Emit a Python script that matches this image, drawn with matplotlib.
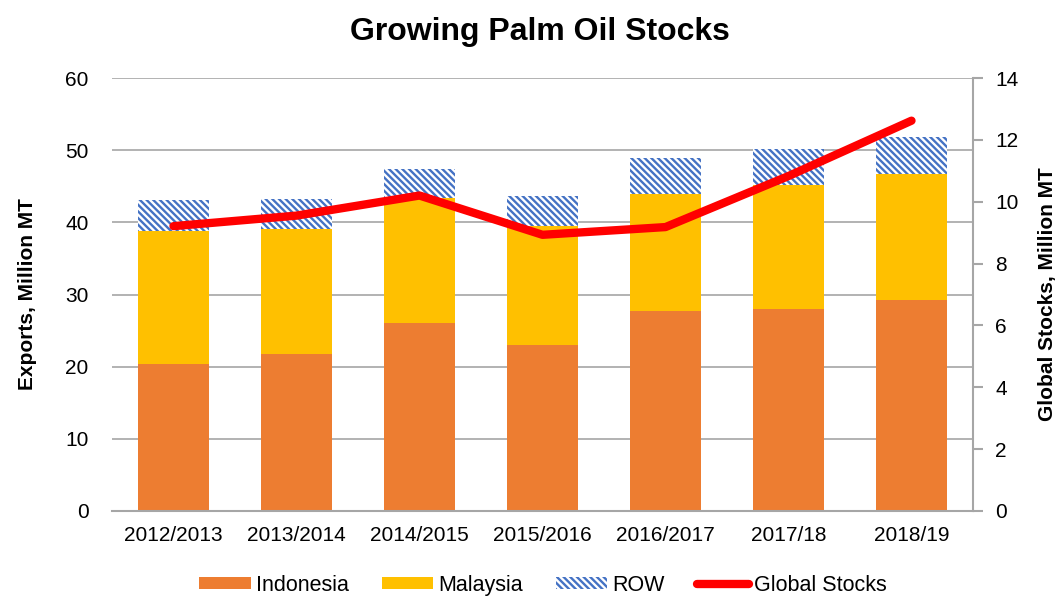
import matplotlib
matplotlib.use("Agg")
import matplotlib.pyplot as plt
from matplotlib.patches import Patch
from matplotlib.lines import Line2D
import numpy as np

plt.rcParams['font.family'] = ['Liberation Sans', 'DejaVu Sans']
plt.rcParams['hatch.linewidth'] = 1.7

categories = ["2012/2013", "2013/2014", "2014/2015", "2015/2016", "2016/2017", "2017/18", "2018/19"]
indonesia = [20.4, 21.7, 26.0, 23.0, 27.7, 28.0, 29.2]
malaysia_top = [38.8, 39.1, 43.4, 39.5, 43.9, 45.2, 46.7]
total_top = [43.1, 43.2, 47.4, 43.7, 48.9, 50.2, 51.8]
malaysia = [m - i for m, i in zip(malaysia_top, indonesia)]
row = [t - m for t, m in zip(total_top, malaysia_top)]
global_stocks = [9.21, 9.55, 10.2, 8.93, 9.18, 10.83, 12.62]

c_ind = '#ED7D31'
c_mal = '#FFC000'
c_row = '#4472C4'
c_line = '#FF0000'
grid_c = '#A6A6A6'
hatch = '\\\\\\\\\\'

fig = plt.figure(figsize=(10.59, 5.96), dpi=100)
ax = fig.add_axes([112/1059, 1-511/596, (973-112)/1059, (511-78)/596])
x = np.arange(len(categories))
w = 0.57

ax.bar(x, indonesia, w, color=c_ind, zorder=2)
ax.bar(x, malaysia, w, bottom=indonesia, color=c_mal, zorder=2)
ax.bar(x, row, w, bottom=malaysia_top, facecolor='white', edgecolor=c_row,
       hatch=hatch, linewidth=0, zorder=2)

ax.set_xlim(-0.5, len(categories) - 0.5)
ax.set_ylim(0, 60)
ax.set_yticks(range(0, 61, 10))
ax.yaxis.grid(True, color=grid_c, linewidth=1.2, zorder=0)
ax.set_axisbelow(True)
for s in ['top', 'left', 'right']:
    ax.spines[s].set_visible(False)
ax.spines['bottom'].set_color(grid_c)
ax.spines['bottom'].set_linewidth(1.5)
ax.set_xticks(x)
ax.set_xticklabels(categories)
ax.tick_params(axis='x', length=0, pad=11, labelsize=15)
ax.tick_params(axis='y', length=0, pad=17, labelsize=15)
ax.set_ylabel('Exports, Million MT', fontsize=15, fontweight='bold', labelpad=20)

ax2 = ax.twinx()
ax2.plot(x, global_stocks, color=c_line, linewidth=6, solid_capstyle='round', zorder=5)
ax2.set_ylim(0, 14)
ax2.set_yticks(range(0, 15, 2))
for s in ['top', 'left', 'bottom']:
    ax2.spines[s].set_visible(False)
ax2.spines['right'].set_color(grid_c)
ax2.spines['right'].set_linewidth(1.5)
ax2.tick_params(axis='y', length=7, width=1.5, color=grid_c, pad=9, labelsize=15, direction='out')
ax2.set_ylabel('Global Stocks, Million MT', fontsize=15, fontweight='bold', labelpad=14)

fig.suptitle('Growing Palm Oil Stocks', fontsize=23, fontweight='bold', x=0.51, y=0.972)

handles = [
    Patch(facecolor=c_ind, edgecolor='none', label='Indonesia'),
    Patch(facecolor=c_mal, edgecolor='none', label='Malaysia'),
    Patch(facecolor='white', edgecolor=c_row, hatch=hatch, linewidth=0, label='ROW'),
    Line2D([0], [0], color=c_line, linewidth=6, solid_capstyle='round', label='Global Stocks'),
]
fig.legend(handles=handles, loc='center', bbox_to_anchor=(0.513, 0.018), ncol=4, frameon=False,
           fontsize=15.5, handlelength=2.4, handleheight=0.5, handletextpad=0.25, columnspacing=1.5)

fig.savefig('out.png', dpi=100)
